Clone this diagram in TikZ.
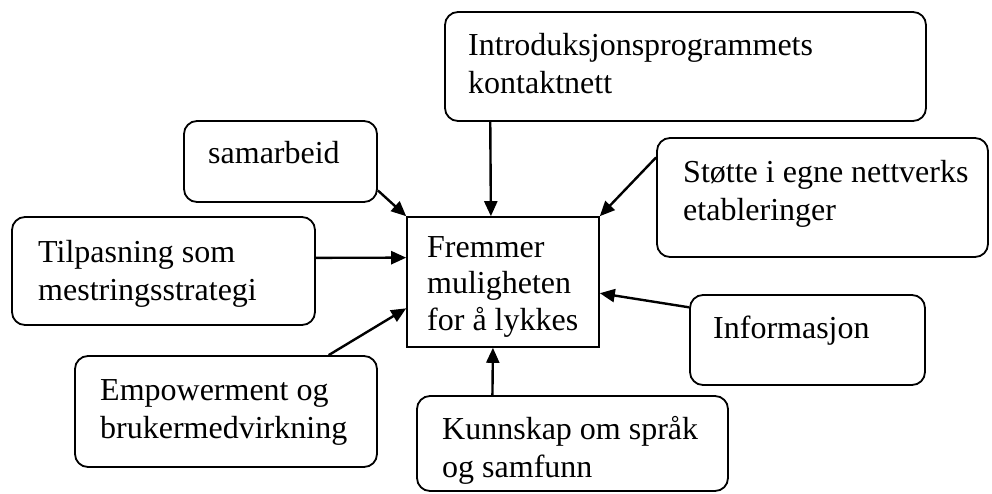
\documentclass[tikz,border=0pt]{standalone}
\usepackage{fontspec}
\setmainfont{Liberation Serif}
\usetikzlibrary{arrows.meta,calc}
\begin{document}
\begin{tikzpicture}[x=1pt,y=-1pt,
  rbox/.style={draw,line width=1.8pt,rounded corners=13pt,inner sep=0pt},
  cbox/.style={draw,line width=1.6pt,inner sep=0pt},
  lbl/.style={anchor=base west,inner sep=0pt,align=left,font=\fontsize{32}{37.5}\selectfont},
  arr/.style={line width=2.4pt,-{Triangle[length=15pt,width=13pt]}}]
\useasboundingbox (0,0) rectangle (992,493);
% boxes
\node[rbox,minimum width=481pt,minimum height=109pt] (intro) at (685.5,66.5) {};
\node[rbox,minimum width=193pt,minimum height=81pt] (sam) at (280.5,161.5) {};
\node[rbox,minimum width=303pt,minimum height=108pt] (tilp) at (163.5,271) {};
\node[rbox,minimum width=302pt,minimum height=111pt] (emp) at (226,411.5) {};
\node[rbox,minimum width=311pt,minimum height=95pt] (kunn) at (572.5,443.5) {};
\node[rbox,minimum width=235pt,minimum height=90pt] (info) at (807.5,340) {};
\node[rbox,minimum width=331pt,minimum height=119pt] (stotte) at (822.5,197.5) {};
\node[cbox,minimum width=192pt,minimum height=130pt] (center) at (503,282) {};
% texts (multi-line: anchor is the baseline of the last line)
\node[lbl] (tintro) at (468,93) {Introduksjonsprogrammets\\kontaktnett};
\node[lbl] (tsam) at (208,163) {samarbeid};
\node[lbl] (ttilp) at (38,300) {Tilpasning som\\mestringsstrategi};
\node[lbl] (temp) at (100,438) {Empowerment og\\brukermedvirkning};
\node[lbl] (tkunn) at (442,477) {Kunnskap om språk\\og samfunn};
\node[lbl] (tinfo) at (713,338) {Informasjon};
\node[lbl] (tstotte) at (683,220) {Støtte i egne nettverks\\etableringer};
\node[lbl,font=\fontsize{32}{36.5}\selectfont] (tcenter) at (427,330) {Fremmer\\muligheten\\for å lykkes};
% connectors
\draw[arr] ($(intro.south west)!0.0956!(intro.south east)$) -- ($(center.north west)!0.4375!(center.north east)$);
\draw[arr] ($(sam.north east)!0.85!(sam.south east)$) -- (center.north west);
\draw[arr] ($(tilp.north east)!0.38!(tilp.south east)$) -- ($(center.north west)!0.315!(center.south west)$);
\draw[arr] ($(emp.north west)!0.838!(emp.north east)$) -- ($(center.north west)!0.7!(center.south west)$);
\draw[arr] ($(kunn.north west)!0.244!(kunn.north east)$) -- ($(center.south west)!0.448!(center.south east)$);
\draw[arr] ($(info.north west)!0.144!(info.south west)$) -- ($(center.north east)!0.585!(center.south east)$);
\draw[arr] ($(stotte.north west)!0.168!(stotte.south west)$) -- (center.north east);
\end{tikzpicture}
\end{document}
